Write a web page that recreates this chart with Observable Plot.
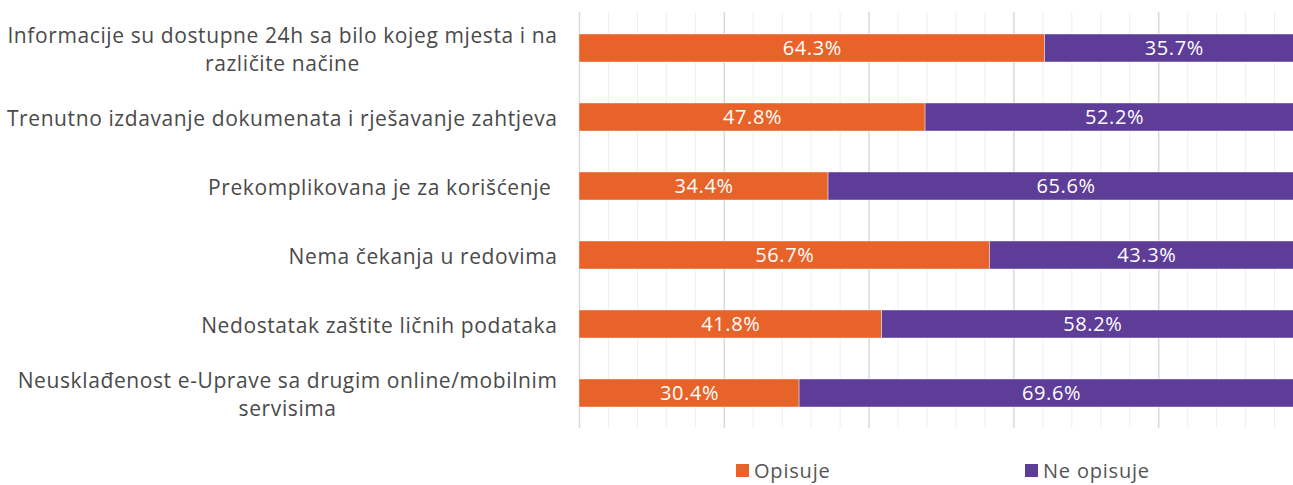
<!DOCTYPE html>
<html><head><meta charset="utf-8">
<script src="https://cdn.jsdelivr.net/npm/d3@7"></script>
<script src="https://cdn.jsdelivr.net/npm/@observablehq/plot@0.6"></script>
<style>
body{margin:0;background:#fff;overflow:hidden;font-family:"Open Sans",sans-serif;}
#wrap{width:1293px;height:485px;overflow:hidden;position:relative;}
#chart{position:absolute;left:0;top:0;width:1303px;}
#chart svg{max-width:none !important;}
.catlab text, text.catlab{letter-spacing:0.6px;}
.vallab text, text.vallab{letter-spacing:0.6px;}
#legend{position:absolute;top:457px;left:0;width:1293px;height:26px;font-size:20px;color:#555;letter-spacing:0.8px;}
.item{position:absolute;top:0;display:flex;align-items:center;height:26px;white-space:nowrap;}
.sw{width:13px;height:13px;margin-right:5px;}
</style></head><body>
<div id="wrap"><div id="chart"></div><div id="legend"></div></div>
<script>
const categories = [
  "Informacije su dostupne 24h sa bilo kojeg mjesta i na\nrazličite načine",
  "Trenutno izdavanje dokumenata i rješavanje zahtjeva",
  "Prekomplikovana je za korišćenje ",
  "Nema čekanja u redovima",
  "Nedostatak zaštite ličnih podataka",
  "Neusklađenost e-Uprave sa drugim online/mobilnim\nservisima"
];
const opisuje = [64.3, 47.8, 34.4, 56.7, 41.8, 30.4];
const neOpisuje = [35.7, 52.2, 65.6, 43.3, 58.2, 69.6];
const seriesNames = ["Opisuje", "Ne opisuje"];
const seriesColors = ["#E8632A", "#5E3D98"];
const majorTicks = [0, 20, 40, 60, 80, 100];
const minorTicks = [4, 8, 12, 16, 24, 28, 32, 36, 44, 48, 52, 56, 64, 68, 72, 76, 84, 88, 92, 96];

const rows = [];
categories.forEach((c, i) => {
  rows.push({cat: c, series: seriesNames[0], value: opisuje[i]});
  rows.push({cat: c, series: seriesNames[1], value: neOpisuje[i]});
});

const ctx = document.createElement("canvas").getContext("2d");
ctx.font = "21px 'Open Sans'";
const spacing = 0.6;
const measure = s => ctx.measureText(s).width + spacing * s.length;
const marginLeft = 579;
const labelRight = 557;

const labelMarks = categories.map(c => {
  const w = d3.max(c.split("\n"), measure);
  const cx = labelRight - w / 2;
  return Plot.text([c], {
    y: d => d, text: d => d, frameAnchor: "left", dx: cx - marginLeft,
    textAnchor: "middle", lineAnchor: "middle", lineHeight: 1.33,
    fontSize: 21, fill: "#4a4a4a", className: "catlab"
  });
});

const chart = Plot.plot({
  width: 1303,
  height: 440,
  marginLeft: marginLeft,
  marginRight: 0,
  marginTop: 12,
  marginBottom: 12,
  style: {fontFamily: "'Open Sans', sans-serif", background: "#fff", maxWidth: "none"},
  x: {domain: [0, 100], axis: null},
  y: {domain: categories, axis: null, paddingInner: 0.6, paddingOuter: 0.3},
  color: {domain: seriesNames, range: seriesColors},
  marks: [
    Plot.ruleX(minorTicks, {stroke: "#efefef", strokeWidth: 1}),
    Plot.ruleX(majorTicks, {stroke: "#d9d9d9", strokeWidth: 1.5}),
    Plot.barX(rows, Plot.stackX({x: "value", y: "cat", z: "series", fill: "series", order: seriesNames, stroke: "#fff", strokeWidth: 0.6, strokeOpacity: 0.7})),
    Plot.text(rows, Plot.stackX({x: "value", y: "cat", z: "series", order: seriesNames, text: d => d.value.toFixed(1) + "%", fill: "#fff", fontSize: 20, className: "vallab"})),
    ...labelMarks
  ]
});
document.getElementById("chart").appendChild(chart);

const legend = document.getElementById("legend");
const legendX = [736, 1025];
seriesNames.forEach((s, i) => {
  const it = document.createElement("div");
  it.className = "item";
  it.style.left = legendX[i] + "px";
  const sw = document.createElement("div");
  sw.className = "sw";
  sw.style.background = seriesColors[i];
  const tx = document.createElement("span");
  tx.textContent = s;
  it.appendChild(sw); it.appendChild(tx);
  legend.appendChild(it);
});
</script>
</body></html>
